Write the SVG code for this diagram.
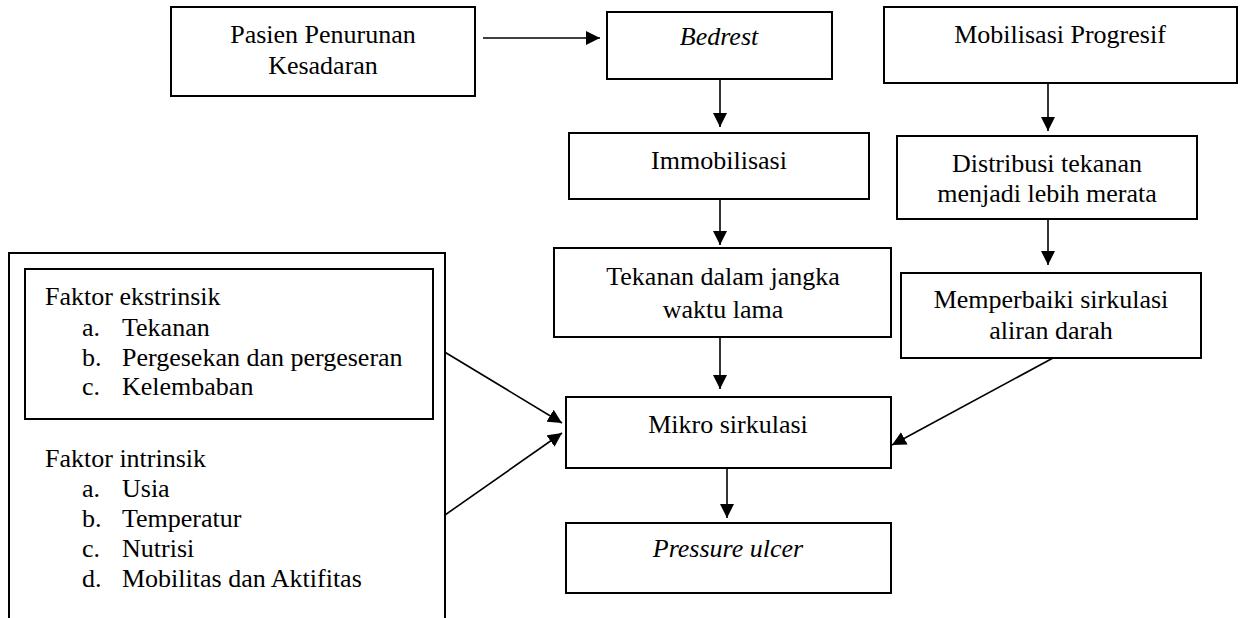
<svg xmlns="http://www.w3.org/2000/svg" width="1240" height="618" viewBox="0 0 1240 618">
<style>
.box{fill:#fff;stroke:#000;stroke-width:2}
.t{font-family:"Liberation Serif","Times New Roman",serif;font-size:26px;fill:#000}
.c{text-anchor:middle}
.i{font-style:italic}
.ln{stroke:#000;stroke-width:1.6;fill:none}
</style>
<defs>
<marker id="ah" markerUnits="userSpaceOnUse" markerWidth="14" markerHeight="14" viewBox="0 0 14 14" refX="14" refY="7" orient="auto">
<path d="M0,0 L14,7 L0,14 Z" fill="#000"/>
</marker>
</defs>
<rect width="1240" height="618" fill="#fff"/>
<g id="connectors">
<line class="ln" x1="483" y1="38" x2="600" y2="38" marker-end="url(#ah)"/>
<line class="ln" x1="720" y1="79" x2="720" y2="127" marker-end="url(#ah)"/>
<line class="ln" x1="1048" y1="83" x2="1048" y2="131" marker-end="url(#ah)"/>
<line class="ln" x1="720" y1="199" x2="720" y2="245" marker-end="url(#ah)"/>
<line class="ln" x1="1048" y1="219" x2="1048" y2="265" marker-end="url(#ah)"/>
<line class="ln" x1="720" y1="337" x2="720" y2="389" marker-end="url(#ah)"/>
<line class="ln" x1="727" y1="468" x2="727" y2="518" marker-end="url(#ah)"/>
<line class="ln" x1="433" y1="345" x2="562" y2="423" marker-end="url(#ah)"/>
<line class="ln" x1="435" y1="522" x2="562" y2="433" marker-end="url(#ah)"/>
<line class="ln" x1="1053" y1="358" x2="892" y2="445" marker-end="url(#ah)"/>
</g>
<g id="pasien">
<rect class="box" x="171" y="7" width="304" height="89"/>
<text class="t c" x="323" y="43">Pasien Penurunan</text>
<text class="t c" x="323" y="74">Kesadaran</text>
</g>
<g id="bedrest">
<rect class="box" x="607" y="12" width="225" height="67"/>
<text class="t c i" x="719" y="45">Bedrest</text>
</g>
<g id="mobilisasi">
<rect class="box" x="884" y="7" width="353" height="76"/>
<text class="t c" x="1060" y="43">Mobilisasi Progresif</text>
</g>
<g id="immobilisasi">
<rect class="box" x="569" y="133" width="300" height="66"/>
<text class="t c" x="719" y="169">Immobilisasi</text>
</g>
<g id="distribusi">
<rect class="box" x="897" y="136" width="300" height="83"/>
<text class="t c" x="1047" y="172">Distribusi tekanan</text>
<text class="t c" x="1047" y="202">menjadi lebih merata</text>
</g>
<g id="tekanan">
<rect class="box" x="554" y="248" width="337" height="89"/>
<text class="t c" x="723" y="285">Tekanan dalam jangka</text>
<text class="t c" x="723" y="318">waktu lama</text>
</g>
<g id="memperbaiki">
<rect class="box" x="901" y="273" width="300" height="85"/>
<text class="t c" x="1051" y="308">Memperbaiki sirkulasi</text>
<text class="t c" x="1051" y="339">aliran darah</text>
</g>
<g id="mikro">
<rect class="box" x="566" y="397" width="325" height="71"/>
<text class="t c" x="728" y="433">Mikro sirkulasi</text>
</g>
<g id="pressure">
<rect class="box" x="566" y="523" width="325" height="70"/>
<text class="t c i" x="728" y="557">Pressure ulcer</text>
</g>
<g id="faktor">
<path class="box" d="M9,620 L9,253 L445,253 L445,620" fill="none"/>
<rect class="box" x="25" y="269" width="408" height="150"/>
<text class="t" x="45" y="305">Faktor ekstrinsik</text>
<text class="t" x="82" y="336">a.</text><text class="t" x="122" y="336">Tekanan</text>
<text class="t" x="82" y="366">b.</text><text class="t" x="122" y="366">Pergesekan dan pergeseran</text>
<text class="t" x="82" y="395">c.</text><text class="t" x="122" y="395">Kelembaban</text>
<text class="t" x="45" y="467">Faktor intrinsik</text>
<text class="t" x="82" y="497">a.</text><text class="t" x="122" y="497">Usia</text>
<text class="t" x="82" y="527">b.</text><text class="t" x="122" y="527">Temperatur</text>
<text class="t" x="82" y="557">c.</text><text class="t" x="122" y="557">Nutrisi</text>
<text class="t" x="82" y="587">d.</text><text class="t" x="122" y="587">Mobilitas dan Aktifitas</text>
</g>
</svg>
